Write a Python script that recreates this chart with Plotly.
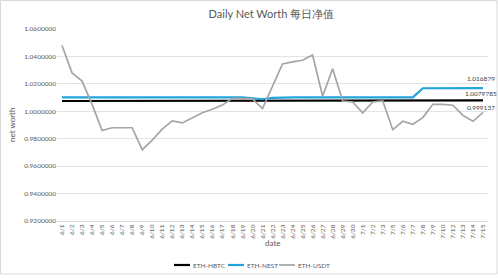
import plotly.graph_objects as go

dates = ["6/1", "6/2", "6/3", "6/4", "6/5", "6/6", "6/7", "6/8", "6/9", "6/10",
         "6/11", "6/12", "6/13", "6/14", "6/15", "6/16", "6/17", "6/18", "6/19", "6/20",
         "6/21", "6/22", "6/23", "6/24", "6/25", "6/26", "6/27", "6/28", "6/29", "6/30",
         "7/1", "7/2", "7/3", "7/5", "7/6", "7/7", "7/8", "7/9", "7/10", "7/12",
         "7/13", "7/14", "7/15"]

eth_hbtc = [1.0075, 1.0075, 1.0075, 1.0075, 1.0075, 1.0075, 1.0075, 1.0075, 1.0075, 1.0075,
            1.0075, 1.0075, 1.0075, 1.0075, 1.0075, 1.0075, 1.0075, 1.0075, 1.0075, 1.0075,
            1.0075, 1.0075, 1.0075, 1.0075, 1.0075, 1.0075, 1.0075, 1.0075, 1.0075, 1.0075,
            1.0075, 1.0075, 1.0075, 1.0075, 1.0075, 1.0075, 1.0075, 1.0075, 1.0076, 1.0076,
            1.0077, 1.0078, 1.0079785]

eth_nest = [1.0102, 1.0102, 1.0102, 1.0102, 1.0102, 1.0102, 1.0102, 1.0102, 1.0102, 1.0102,
            1.0102, 1.0102, 1.0102, 1.0102, 1.0102, 1.0102, 1.0102, 1.0102, 1.0102, 1.0095,
            1.0088, 1.0098, 1.0102, 1.0102, 1.0102, 1.0102, 1.0102, 1.0102, 1.0102, 1.0102,
            1.0102, 1.0102, 1.0102, 1.0102, 1.0102, 1.0102, 1.0168, 1.0168, 1.0168, 1.0168,
            1.0168, 1.0168, 1.016879]

eth_usdt = [1.048, 1.028, 1.022, 1.005, 0.986, 0.988, 0.988, 0.988, 0.972, 0.979,
            0.987, 0.993, 0.9915, 0.9955, 0.999, 1.0015, 1.0045, 1.0095, 1.009, 1.009,
            1.002, 1.018, 1.0345, 1.036, 1.0372, 1.041, 1.011, 1.031, 1.0075, 1.0068,
            0.9988, 1.0068, 1.0075, 0.9866, 0.9927, 0.9905, 0.9954, 1.0051, 1.0051, 1.0044,
            0.997, 0.9927, 0.999137]

series_names = ["ETH-HBTC", "ETH-NEST", "ETH-USDT"]
series_colors = ["#000000", "#22a3dc", "#a5a5a5"]
series_widths = [2.2, 2.2, 1.7]
end_labels = ["1.0079785", "1.016879", "0.999137"]

FONT = "Lato, 'Open Sans', sans-serif"
TXT = "#595959"

# plot-area geometry in pixels
L, R, T, B = 57, 488, 29, 221
PW, PH = R - L, B - T


def px(xp):
    return (xp - L) / PW


def py(yp):
    return (B - yp) / PH


series_vals = [eth_hbtc, eth_nest, eth_usdt]

fig = go.Figure()
for name, vals, col, w in zip(series_names, series_vals, series_colors, series_widths):
    fig.add_trace(go.Scatter(x=dates, y=vals, name=name, mode="lines",
                             line=dict(color=col, width=w), showlegend=False))

shifts = [1, 4, -1]
for vals, lab, sh in zip(series_vals, end_labels, shifts):
    fig.add_annotation(x=dates[-1], y=vals[-1], text=lab, showarrow=False,
                       yshift=sh, xshift=-2, xanchor="center", yanchor="bottom",
                       font=dict(family=FONT, size=6.5, color="#404040"))

# custom compact legend (Excel style)
leg_y = py(265)
leg_x = [174, 228, 279]
for x0, name, col, w in zip(leg_x, series_names, series_colors, series_widths):
    fig.add_shape(type="line", xref="paper", yref="paper",
                  x0=px(x0), x1=px(x0 + 16), y0=leg_y, y1=leg_y,
                  line=dict(color=col, width=w))
    fig.add_annotation(xref="paper", yref="paper", x=px(x0 + 16.5), y=leg_y,
                       text=name, showarrow=False, xanchor="left", yanchor="middle",
                       font=dict(family=FONT, size=6.5, color=TXT))

# axis titles
fig.add_annotation(xref="paper", yref="paper", x=px(272.5), y=py(243), text="date",
                   showarrow=False, xanchor="center", yanchor="middle",
                   font=dict(family=FONT, size=8, color=TXT))
fig.add_annotation(xref="paper", yref="paper", x=px(12), y=py(125), text="net worth",
                   showarrow=False, textangle=-90, xanchor="center", yanchor="middle",
                   font=dict(family=FONT, size=8, color=TXT))

# chart border
fig.add_shape(type="rect", xref="paper", yref="paper",
              x0=px(0.5), x1=px(497), y0=py(274), y1=py(0.5),
              line=dict(color="#d9d9d9", width=1), fillcolor="rgba(0,0,0,0)", layer="below")

fig.update_layout(
    width=498, height=278,
    margin=dict(l=L, r=498 - R, t=T, b=278 - B),
    paper_bgcolor="white", plot_bgcolor="white",
    font=dict(family=FONT, size=7, color=TXT),
    title=dict(text="Daily Net Worth 每日净值", x=0.545, xanchor="center", y=0.95, yanchor="middle",
               font=dict(family=FONT, size=11, color=TXT)),
    xaxis=dict(type="category", range=[-0.5, len(dates) - 0.5], tickangle=-90,
               showgrid=False, showline=True, linecolor="#d9d9d9", linewidth=1,
               ticks="", tickfont=dict(size=6.5, color=TXT), automargin=False),
    yaxis=dict(range=[0.92, 1.06], dtick=0.02, tickformat=".7f",
               showgrid=True, gridcolor="#e3e3e3", gridwidth=1, zeroline=False,
               showline=False, ticks="", tickfont=dict(size=6.5, color=TXT), automargin=False),
    showlegend=False,
)

fig.write_html("out.html")
